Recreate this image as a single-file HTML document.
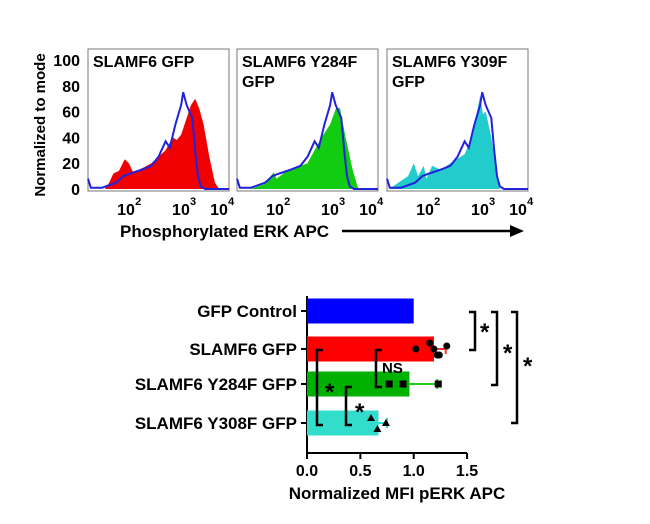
<!DOCTYPE html>
<html><head><meta charset="utf-8"><style>
body{margin:0;background:#fff;font-family:"Liberation Sans",Arial,sans-serif}
svg text{font-family:"Liberation Sans",Arial,sans-serif;font-weight:bold}
</style></head><body>
<svg id="c" width="650" height="519" viewBox="0 0 650 519"></svg>
<script>
const NS="http://www.w3.org/2000/svg";
// Histogram data: [fraction across panel, percent of mode]
const blueRef=[[0,8],[0.02,1],[0.1,1],[0.2,5],[0.25,10],[0.3,12],[0.38,15],[0.45,18],[0.5,25],[0.55,37],[0.58,32],[0.62,50],[0.66,65],[0.675,75],[0.7,65],[0.72,60],[0.74,55],[0.76,30],[0.78,10],[0.8,2],[0.83,0],[1,0]];
const redHist=[[0.12,0],[0.15,5],[0.18,12],[0.22,14],[0.26,23],[0.29,20],[0.32,13],[0.36,15],[0.4,17],[0.45,20],[0.5,25],[0.55,30],[0.58,36],[0.6,40],[0.63,38],[0.66,42],[0.7,55],[0.73,65],[0.76,70],[0.79,62],[0.82,50],[0.86,25],[0.9,5],[0.93,0]];
const greenHist=[[0.1,0],[0.2,4],[0.26,13],[0.28,8],[0.34,13],[0.4,16],[0.5,20],[0.55,30],[0.6,40],[0.66,50],[0.7,62],[0.73,63],[0.77,40],[0.82,15],[0.86,0]];
const cyanHist=[[0.02,0],[0.08,5],[0.15,10],[0.19,20],[0.22,10],[0.26,18],[0.28,8],[0.32,18],[0.38,15],[0.45,20],[0.55,27],[0.6,40],[0.63,55],[0.66,72],[0.68,58],[0.7,60],[0.74,40],[0.78,10],[0.8,0]];
const panelTitles=[["SLAMF6 GFP"],["SLAMF6 Y284F","GFP"],["SLAMF6 Y309F","GFP"]];
const yTicks=[0,20,40,60,80,100];
// Bar chart data
const categories=["GFP Control","SLAMF6 GFP","SLAMF6 Y284F GFP","SLAMF6 Y308F GFP"];
const barValues=[1.0,1.19,0.96,0.67];
const barErrors=[0,0.11,0.26,0.08];
const points1=[1.02,1.15,1.19,1.24,1.31,1.22];
const points2=[0.77,0.9,1.23];
const points3=[0.6,0.66,0.74];
const xTicks=[0.0,0.5,1.0,1.5];
const svg=document.getElementById('c');
function el(t,a,p){const e=document.createElementNS(NS,t);for(const k in a)e.setAttribute(k,a[k]);(p||svg).appendChild(e);return e;}
function tx(x,y,s,size,anchor){const e=el('text',{x:x,y:y,'font-size':size,'text-anchor':anchor||'start',fill:'#000'});e.textContent=s;return e;}
const panels=[{x:88,fill:'#f00000',data:redHist},{x:237,fill:'#11cc11',data:greenHist},{x:387,fill:'#22cccc',data:cyanHist}];
const pw=141,py0=189,py100=60,ptop=49;
function hy(v){return py0-(py0-py100)*v/100;}
panels.forEach((p,i)=>{
  const g=el('g',{});
  
  
  el('rect',{x:p.x,y:ptop,width:pw,height:py0-ptop+2,fill:'#fff',stroke:'#777','stroke-width':1},g);
  let d='M'+(p.x+p.data[0][0]*pw)+','+py0;
  p.data.forEach(q=>{d+=' L'+(p.x+q[0]*pw).toFixed(1)+','+hy(q[1]).toFixed(1);});
  d+=' L'+(p.x+p.data[p.data.length-1][0]*pw)+','+py0+'Z';
  const f=el('path',{d:d,fill:p.fill},g);
  
  let b='';blueRef.forEach((q,j)=>{b+=(j?' L':'M')+(p.x+q[0]*pw).toFixed(1)+','+hy(q[1]).toFixed(1);});
  const bl=el('path',{d:b,fill:'none',stroke:'#2222dd','stroke-width':2},g);
  
  panelTitles[i].forEach((t,k)=>{const e=tx(p.x+5,ptop+18+k*20,t,16);});
  [[0.27,'2'],[0.66,'3'],[0.93,'4']].forEach(q=>{
    const e=tx(p.x+q[0]*pw-9,215,'10',16);
    tx(p.x+q[0]*pw+9,205,q[1],11);
  });
});
yTicks.forEach(v=>{const e=tx(80,hy(v)+6,String(v),16,'end');});
const yt=tx(0,0,'Normalized to mode',15,'middle');yt.setAttribute('transform','translate(45,125) rotate(-90)');

const xt=tx(120,237,'Phosphorylated ERK APC',17);
el('line',{x1:342,y1:231,x2:512,y2:231,stroke:'#000','stroke-width':2.5});
el('polygon',{points:'524,231 510,225 510,237',fill:'#000'});
// bar chart
const x0=307,ppu=106.7,axY=453;
function bx(v){return x0+v*ppu;}
const rowY=[311,349,384,423],bh=25;
const colors=['#0000ff','#ff0000','#00b000','#33ddcc'];
const errColors=['#00f','#f33','#22cc22','#33ddcc'];
el('line',{x1:x0,y1:296,x2:x0,y2:axY,stroke:'#000','stroke-width':2});
el('line',{x1:x0,y1:axY,x2:bx(1.5),y2:axY,stroke:'#000','stroke-width':2});
xTicks.forEach(v=>{el('line',{x1:bx(v),y1:axY,x2:bx(v),y2:axY+6,stroke:'#000','stroke-width':2});
  const e=tx(bx(v),476,v.toFixed(1),16,'middle');});
const bt=tx(397,499,'Normalized MFI pERK APC',17,'middle');
categories.forEach((c,i)=>{
  const y=rowY[i];
  el('line',{x1:x0-6,y1:y,x2:x0,y2:y,stroke:'#000','stroke-width':2});
  const l=tx(297,y+6,c,17,'end');
  const r=el('rect',{x:x0,y:y-bh/2,width:bx(barValues[i])-x0,height:bh,fill:colors[i]});
  
  if(barErrors[i]>0){const xe=bx(barValues[i]+barErrors[i]);
    el('line',{x1:bx(barValues[i]),y1:y,x2:xe,y2:y,stroke:errColors[i],'stroke-width':2});
    el('line',{x1:xe,y1:y-5,x2:xe,y2:y+5,stroke:errColors[i],'stroke-width':2});}
});
points1.forEach((v,j)=>{const c=el('circle',{cx:bx(v),cy:rowY[1]+[0,-6,0,6,-3,6][j],r:3.5,fill:'#000'});});
points2.forEach(v=>{const c=el('rect',{x:bx(v)-3.5,y:rowY[2]-3.5,width:7,height:7,fill:'#000'});});
points3.forEach((v,j)=>{const y=rowY[3]+[-5,6,0][j];const c=el('polygon',{points:`${bx(v)},${y-4} ${bx(v)-4},${y+3} ${bx(v)+4},${y+3}`,fill:'#000'});});
function br(x,y1,y2,dir){const w=6*dir;el('path',{d:`M${x+w},${y1} L${x},${y1} L${x},${y2} L${x+w},${y2}`,fill:'none',stroke:'#000','stroke-width':2.5});}
br(475,312,350,-1);br(497,312,385,-1);br(517,312,423,-1);
br(317,350,425,1);br(346,387,425,1);br(376,350,387,1);
[[480,340],[503,361],[523,374],[325,400],[355,420]].forEach(p=>{const e=tx(p[0],p[1],'*',24);});
const ns=tx(382,373,'NS',15);
</script>
</body></html>
